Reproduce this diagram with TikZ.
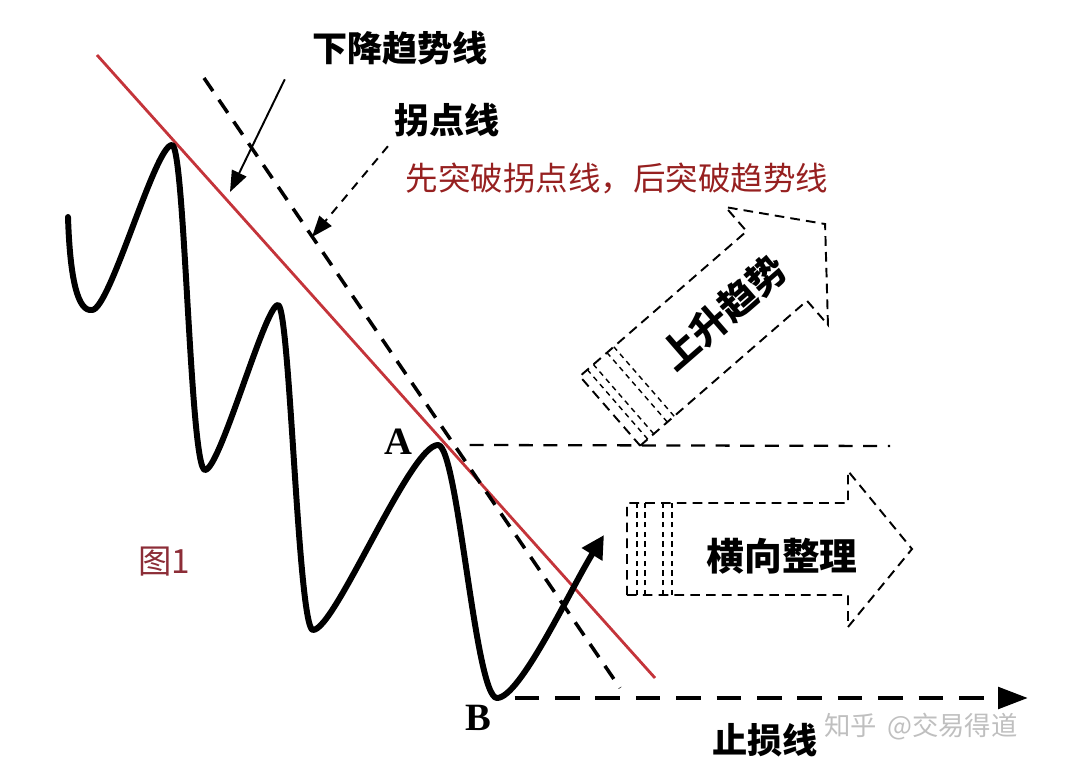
\documentclass[tikz,border=0pt]{standalone}
\usepackage{fontspec}
\usetikzlibrary{arrows.meta}
\newfontfamily\cjk{Noto Sans CJK SC}
\newfontfamily\abfont{Liberation Serif}
\definecolor{trendred}{RGB}{196,52,58}
\definecolor{notered}{RGB}{150,32,32}
\definecolor{figred}{RGB}{140,45,55}

\begin{document}
\begin{tikzpicture}[
                x=0.02cm, y=0.02cm,
                wave/.style={line width=3.4pt, line cap=round, line join=round},
                trend/.style={trendred, line width=1.6pt},
                pivot/.style={line width=2pt, dash pattern=on 9pt off 6pt},
                flatline/.style={line width=1.3pt, dash pattern=on 8pt off 6pt},
                stopline/.style={line width=2.8pt, dash pattern=on 14pt off 9pt},
                pointer/.style={line width=1.1pt, -{Triangle[length=12pt,width=9pt]}},
                hollow/.style={line width=1.1pt, dash pattern=on 5.5pt off 3.5pt},
                stripe/.style={line width=0.8pt, dash pattern=on 3pt off 2.5pt},
                bigtext/.style={font=\cjk\bfseries\fontsize{20}{24}\selectfont, inner sep=0pt},
                arrowtext/.style={font=\cjk\bfseries\fontsize{21.5}{26}\selectfont, inner sep=0pt},
                note/.style={notered, font=\cjk\fontsize{18.5}{22}\selectfont, inner sep=0pt},
                ptlabel/.style={font=\abfont\bfseries\fontsize{22}{26}\selectfont, inner sep=0pt},
                figlabel/.style={figred, font=\cjk\fontsize{19}{22}\selectfont, inner sep=0pt},
                wmark/.style={black!25, font=\cjk\fontsize{15}{18}\selectfont, inner sep=0pt}
            ]
            \useasboundingbox (0,0) rectangle (1080,-777);

            \coordinate (trendTop) at (97,-55);
            \coordinate (trendEnd) at (655,-678);
            \coordinate (pivotTop) at (204,-78);
            \coordinate (pivotEnd) at (620,-688);
            \coordinate (A) at (438,-445);
            \coordinate (B) at (497,-698);
            \coordinate (waveEnd) at (604,-535);
            \coordinate (flatEnd) at (890,-446);
            \coordinate (stopEnd) at (1028,-698);

            \draw[trend] (trendTop) -- (trendEnd);
            \draw[pivot] (pivotTop) -- (pivotEnd);
            \draw[flatline] ([xshift=18]A) -- (flatEnd);
            \draw[stopline, -{Triangle[length=17pt,width=12pt]}] ([xshift=10]B) -- (stopEnd);

            \draw[wave, -{Triangle[length=13pt,width=13pt]}] (68,-217)
                .. controls (70,-280) and (78,-312) .. (92,-310)
                .. controls (110,-310) and (155,-145) .. (172,-145)
                .. controls (185,-145) and (190,-470) .. (205,-470)
                .. controls (220,-470) and (265,-305) .. (278,-305)
                .. controls (290,-305) and (298,-630) .. (313,-630)
                .. controls (335,-630) and (410,-445) .. (A)
                .. controls (458,-445) and (475,-698) .. (B)
                .. controls (520,-698) and (570,-590) .. (waveEnd);

            \node[ptlabel] (labA) at (398,-442) {A};
            \node[ptlabel] (labB) at (478,-718) {B};

            \node[bigtext] (dtlText) at (400,-48) {下降趋势线};
            \node[bigtext] (pivText) at (447,-120) {拐点线};
            \node[note] (noteText) at (617,-178) {先突破拐点线，后突破趋势线};
            \node[bigtext] (stopText) at (765,-740) {止损线};
            \node[figlabel] (figText) at (164,-562) {图1};
            \node[wmark, anchor=west] (wmText) at (824,-727) {知乎 \,@交易得道};

            \coordinate (dtlTip) at (230,-192);
            \coordinate (pivTip) at (312,-237);
            \draw[pointer] ([shift={(-27,-14)}]dtlText.south west) -- (dtlTip);
            \draw[pointer, dash pattern=on 5pt off 4pt] ([shift={(-6,-9)}]pivText.south west) -- (pivTip);

            \begin{scope}[shift={(610,-411)}, rotate=41]
                \draw[hollow] (0,-46) -- (221,-46) -- (221,-78) -- (285,0)
                    -- (221,78) -- (221,46) -- (0,46) -- cycle;
                \foreach \d in {10,18,36,45}
                    \draw[stripe] (\d,-46) -- (\d,46);
                \node[arrowtext, rotate=41] (upText) at (150,0) {上升趋势};
            \end{scope}

            \begin{scope}[shift={(627,-549)}]
                \draw[hollow] (0,-46) -- (221,-46) -- (221,-78) -- (285,0)
                    -- (221,78) -- (221,46) -- (0,46) -- cycle;
                \foreach \d in {10,18,36,45}
                    \draw[stripe] (\d,-46) -- (\d,46);
                \node[arrowtext] (sideText) at (155,-7) {横向整理};
            \end{scope}
        \end{tikzpicture}
\end{document}
